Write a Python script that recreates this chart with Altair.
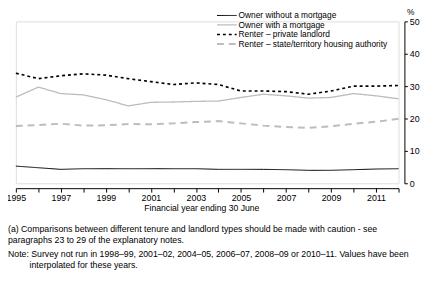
import altair as alt
import pandas as pd

years = list(range(1995, 2013))
series_names = [
    "Owner without a mortgage",
    "Owner with a mortgage",
    "Renter \u2013 private landlord",
    "Renter \u2013 state/territory housing authority",
]
owner_no_mortgage = [5.3, 4.8, 4.3, 4.5, 4.5, 4.5, 4.5, 4.5, 4.5, 4.3, 4.3, 4.3, 4.2, 4.0, 4.0, 4.2, 4.4, 4.5]
owner_mortgage = [26.6, 29.7, 27.7, 27.3, 25.8, 23.9, 25.0, 25.1, 25.3, 25.4, 26.5, 27.5, 27.0, 26.3, 26.5, 27.7, 27.0, 26.1]
renter_private = [34.0, 32.3, 33.2, 33.8, 33.4, 32.3, 31.4, 30.5, 31.0, 30.5, 28.5, 28.5, 28.3, 27.5, 28.5, 30.0, 30.0, 30.2]
renter_state = [17.7, 18.0, 18.4, 17.8, 17.9, 18.3, 18.2, 18.5, 18.9, 19.2, 18.5, 17.8, 17.4, 17.1, 17.6, 18.4, 19.0, 19.9]

x_ticks = list(range(1995, 2013))
y_ticks = [0, 10, 20, 30, 40, 50]

notes = [
    "(a) Comparisons between different tenure and landlord types should be made with caution -  see",
    " paragraphs 23 to 29 of the explanatory notes.",
    "Note: Survey not run in 1998\u201399, 2001\u201302, 2004\u201305, 2006\u201307, 2008\u201309 or 2010\u201311. Values have been",
    "interpolated for these years.",
]

rows = []
for name, vals in zip(series_names, [owner_no_mortgage, owner_mortgage, renter_private, renter_state]):
    for y, v in zip(years, vals):
        rows.append({"year": y, "value": v, "series": name})
df = pd.DataFrame(rows)
legend_df = pd.DataFrame({"series": series_names})

FONT = "Liberation Sans"
gray = "#bdbdbd"

color_scale = alt.Scale(domain=series_names, range=["black", gray, "black", gray])
dash_scale = alt.Scale(domain=series_names, range=[[1, 0], [1, 0], [3, 3], [7, 5]])
width_scale = alt.Scale(domain=series_names, range=[1, 2, 1, 1.8])

lines = alt.Chart(df).mark_line().encode(
    x=alt.X(
        "year:Q",
        scale=alt.Scale(domain=[1995, 2012], nice=False, zero=False),
        axis=alt.Axis(
            values=x_ticks,
            labelExpr="datum.value % 2 == 1 ? datum.value : ''",
            format="d",
            title="Financial year ending 30 June",
            titleFont=FONT, titleFontSize=8.8, titleFontWeight="normal",
            titleX=189, titleY=16, titleColor="black",
            labelFont=FONT, labelFontSize=9, labelColor="black",
            tickColor="black", domainColor="black", tickSize=4,
            offset=5, grid=False, labelPadding=2, labelOverlap=False,
            labelFlush=False,
        ),
    ),
    y=alt.Y(
        "value:Q",
        scale=alt.Scale(domain=[0, 50], nice=False),
        axis=alt.Axis(
            orient="right", values=y_ticks, title="%", titleAngle=0,
            titleFont=FONT, titleFontSize=8.5, titleFontWeight="normal", titleColor="black",
            titleX=2, titleY=-10, titleAlign="left", titleBaseline="middle",
            labelFont=FONT, labelFontSize=9, labelColor="black",
            tickColor="black", domainColor="black", tickSize=3,
            offset=6, grid=False, labelPadding=2,
        ),
    ),
    color=alt.Color("series:N", scale=color_scale, legend=None),
    strokeDash=alt.StrokeDash("series:N", scale=dash_scale, legend=None),
    strokeWidth=alt.StrokeWidth("series:N", scale=width_scale, legend=None),
)

legend_y = alt.Y(
    "series:N",
    scale=alt.Scale(type="point", domain=series_names, range=[-6, 23], padding=0),
    axis=None,
)
legend_rules = alt.Chart(legend_df).mark_rule().encode(
    x=alt.value(205), x2=alt.value(225), y=legend_y,
    color=alt.Color("series:N", scale=color_scale, legend=None),
    strokeDash=alt.StrokeDash("series:N", scale=dash_scale, legend=None),
    strokeWidth=alt.StrokeWidth("series:N", scale=width_scale, legend=None),
)
legend_text = alt.Chart(legend_df).mark_text(
    align="left", baseline="middle", font=FONT, fontSize=8.5, color="black"
).encode(x=alt.value(227), y=legend_y, text="series:N")
legend_layer = alt.layer(legend_rules, legend_text)

note_positions = [(-8, 212), (-8, 223), (-8, 237), (14, 248)]
note_layers = []
for t, (nx, ny) in zip(notes, note_positions):
    note_layers.append(
        alt.Chart(pd.DataFrame({"t": [t]})).mark_text(
            align="left", baseline="middle", font=FONT, fontSize=8.9, color="black"
        ).encode(text="t:N", x=alt.value(nx), y=alt.value(ny))
    )

chart = alt.layer(lines, legend_layer, *note_layers).resolve_scale(
    y="independent"
).properties(
    width=390, height=165,
    autosize=alt.AutoSizeParams(type="none"),
    padding={"left": 8, "top": 11, "right": 29, "bottom": 99},
).configure_view(stroke=None).configure(background="white")

chart.save("out.html", embed_options={"renderer": "svg", "actions": False})
